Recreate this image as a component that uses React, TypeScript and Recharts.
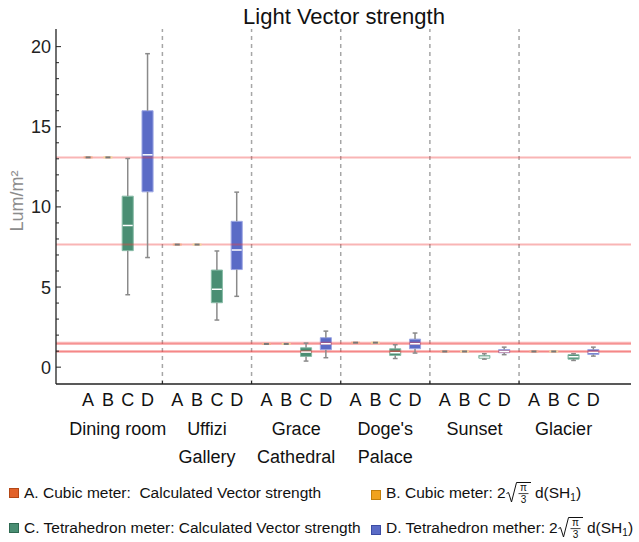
import React from "react";
import { ComposedChart, XAxis, YAxis, Scatter, ReferenceLine, ReferenceArea } from "recharts";

const FONT = "'Liberation Sans', Arial, sans-serif";

// six rooms, four meters each
const groupNames = [["Dining room"], ["Uffizi", "Gallery"], ["Grace", "Cathedral"], ["Doge's", "Palace"], ["Sunset"], ["Glacier"]];
const letters = ["A", "B", "C", "D"];

// cubic meter: single values
const cubicCalc = [13.09, 7.65, 1.45, 1.53, 0.98, 0.98];
const cubicSH = [13.09, 7.65, 1.45, 1.53, 0.98, 0.98];

// tetrahedron meter, calculated (C)
const cMin = [4.52, 2.94, 0.38, 0.54, 0.5, 0.42];
const cQ1 = [7.27, 4.02, 0.67, 0.73, 0.56, 0.5];
const cMed = [8.84, 4.86, 0.94, 0.9, 0.63, 0.65];
const cQ3 = [10.67, 6.06, 1.21, 1.15, 0.73, 0.78];
const cMax = [13.02, 7.25, 1.5, 1.4, 0.84, 0.84];

// tetrahedron meter, SH (D)
const dMin = [6.84, 4.42, 0.59, 0.88, 0.78, 0.69];
const dQ1 = [10.94, 6.09, 1.09, 1.15, 0.9, 0.79];
const dMed = [13.25, 7.31, 1.46, 1.46, 0.98, 0.92];
const dQ3 = [16.0, 9.1, 1.84, 1.75, 1.1, 1.1];
const dMax = [19.56, 10.92, 2.25, 2.13, 1.25, 1.25];

const yTicks = [0, 1, 2, 3, 4, 5, 6, 7, 8, 9, 10, 11, 12, 13, 14, 15, 16, 17, 18, 19, 20];

const GROUP_STEP = 4.5;
const pos = (g: number, i: number) => g * GROUP_STEP + i;

const GREEN = "#4a8e73";
const GREEN_EDGE = "#88bca7";
const BLUE = "#5a6bc6";
const BLUE_EDGE = "#9da7e4";
const WHISKER = "#8a8a8a";

const dashData = groupNames.flatMap((_, g) => [
  { x: pos(g, 0), y: cubicCalc[g], kind: "A" },
  { x: pos(g, 1), y: cubicSH[g], kind: "B" },
]);

const boxes = groupNames.flatMap((_, g) => [
  { x: pos(g, 2), min: cMin[g], q1: cQ1[g], med: cMed[g], q3: cQ3[g], max: cMax[g], fill: GREEN, edge: GREEN_EDGE },
  { x: pos(g, 3), min: dMin[g], q1: dQ1[g], med: dMed[g], q3: dQ3[g], max: dMax[g], fill: BLUE, edge: BLUE_EDGE },
]);

const separators = groupNames.slice(0, -1).map((_, g) => g * GROUP_STEP + 3.75);
const bottomTicks = [
  ...groupNames.flatMap((_, g) => letters.map((__, i) => pos(g, i))),
  ...groupNames.map((_, g) => g * GROUP_STEP + 1.5),
  ...separators,
].sort((a, b) => a - b);

// legend laid out as a 2 column grid
const legendItems = [
  { text: "A. Cubic meter:  Calculated Vector strength", fill: "#e2622a", edge: "#b44816", formula: false, left: 9, mid: 493 },
  { text: "B. Cubic meter:", fill: "#f0a21e", edge: "#c27f0c", formula: true, left: 371, mid: 493 },
  { text: "C. Tetrahedron meter: Calculated Vector strength", fill: GREEN, edge: "#2f6a52", formula: false, left: 9, mid: 528 },
  { text: "D. Tetrahedron mether:", fill: BLUE, edge: "#3c4ca4", formula: true, left: 371, mid: 528 },
];

const Dash = (p: any) => {
  const c = p.payload.kind === "A" ? "#f6ae8c" : "#f6d59a";
  return (
    <g>
      <line x1={p.cx - 4.5} x2={p.cx + 4.5} y1={p.cy} y2={p.cy} stroke={c} strokeWidth={2} />
      <line x1={p.cx - 2.5} x2={p.cx + 2.5} y1={p.cy} y2={p.cy} stroke="#787878" strokeWidth={2} />
    </g>
  );
};

const LeftTick = (p: any) => {
  const v = p.payload.value;
  const major = v % 5 === 0;
  return (
    <g>
      <line x1={p.x} x2={p.x + (major ? 5 : 3)} y1={p.y} y2={p.y} stroke="#222" />
      {major && (
        <text x={p.x - 5} y={p.y} dy="0.36em" textAnchor="end" fontSize={18} fill="#222" fontFamily={FONT}>
          {v}
        </text>
      )}
    </g>
  );
};

const RightTick = (p: any) => {
  const major = p.payload.value % 5 === 0;
  return <line x1={p.x} x2={p.x - (major ? 5 : 3)} y1={p.y} y2={p.y} stroke="#222" />;
};

const TopTick = (p: any) => <line x1={p.x} x2={p.x} y1={p.y} y2={p.y + 3} stroke="#222" />;

const BottomTick = (p: any) => {
  const v = p.payload.value;
  const g = Math.floor(v / GROUP_STEP + 1e-6);
  const off = v - g * GROUP_STEP;
  if (Math.abs(off - 3.75) < 0.01) {
    return <line x1={p.x} x2={p.x} y1={p.y} y2={p.y - 3} stroke="#222" />;
  }
  if (Math.abs(off - 1.5) < 0.01) {
    return (
      <g fontFamily={FONT} fontSize={18} fill="#111" textAnchor="middle">
        {groupNames[g].map((line, k) => (
          <text key={k} x={p.x} y={p.y + 51 + k * 28}>{line}</text>
        ))}
      </g>
    );
  }
  return (
    <text x={p.x} y={p.y + 22} textAnchor="middle" fontFamily={FONT} fontSize={18} fill="#111">
      {letters[Math.round(off)]}
    </text>
  );
};

// 2 * sqrt(pi/3) * d(SH_1), baseline at y = 20.4 inside a 30px tall box
const Formula = () => (
  <svg width={84} height={30} style={{ marginLeft: 4 }}>
    <g fontFamily={FONT} fill="#111">
      <text x={0} y={20.4} fontSize={15.5}>2</text>
      <path d="M9.5,15.5 L11.5,14.5 L14.5,24 L19.5,4.5 L34,4.5" fill="none" stroke="#111" strokeWidth={1} />
      <text x={26.5} y={13.2} fontSize={10} textAnchor="middle">π</text>
      <line x1={21.5} x2={31.5} y1={15.6} y2={15.6} stroke="#111" strokeWidth={0.8} />
      <text x={26.5} y={25} fontSize={10} textAnchor="middle">3</text>
      <text x={38} y={20.4} fontSize={15.5}>
        d(SH<tspan fontSize={10} dy={3}>1</tspan>
        <tspan dy={-3}>)</tspan>
      </text>
    </g>
  </svg>
);

export default function App() {
  return (
    <div style={{ position: "absolute", left: 0, top: 0, width: 639, height: 542, background: "#fff" }}>
      <ComposedChart width={639} height={542} margin={{ top: 29, right: 8, bottom: 0, left: 0 }}>
        <XAxis
          xAxisId={0}
          dataKey="x"
          type="number"
          domain={[-1.62, 27.4]}
          allowDataOverflow
          ticks={bottomTicks}
          interval={0}
          height={158}
          tickSize={0}
          tickMargin={0}
          tickLine={false}
          tick={<BottomTick />}
          axisLine={{ stroke: "#222", strokeWidth: 1.3 }}
        />
        <XAxis
          xAxisId="top"
          orientation="top"
          type="number"
          domain={[-1.62, 27.4]}
          allowDataOverflow
          ticks={separators}
          interval={0}
          height={0}
          tickSize={0}
          tickMargin={0}
          tickLine={false}
          tick={<TopTick />}
          axisLine={{ stroke: "#222", strokeWidth: 1.3 }}
        />
        <YAxis
          yAxisId={0}
          dataKey="y"
          type="number"
          domain={[-1.05, 21.1]}
          allowDataOverflow
          ticks={yTicks}
          interval={0}
          width={56}
          tickSize={0}
          tickMargin={0}
          tickLine={false}
          tick={<LeftTick />}
          axisLine={{ stroke: "#222", strokeWidth: 1.3 }}
        />
        <YAxis
          yAxisId="right"
          orientation="right"
          type="number"
          domain={[-1.05, 21.1]}
          allowDataOverflow
          ticks={yTicks}
          interval={0}
          width={0}
          tickSize={0}
          tickMargin={0}
          tickLine={false}
          tick={<RightTick />}
          axisLine={{ stroke: "#222", strokeWidth: 1.3 }}
        />

        {separators.map((s) => (
          <ReferenceLine key={`sep-${s}`} x={s} stroke="#a6a6a6" strokeWidth={1.5} strokeDasharray="4 4" />
        ))}
        {cubicCalc.map((v, g) => (
          <ReferenceLine key={`ref-${g}`} y={v} stroke="#f03c3c" strokeOpacity={0.38} strokeWidth={2} />
        ))}

        {boxes.map((b, k) => (
          <React.Fragment key={`box-${k}`}>
            <ReferenceLine segment={[{ x: b.x, y: b.min }, { x: b.x, y: b.q1 }]} stroke={WHISKER} strokeWidth={1.5} />
            <ReferenceLine segment={[{ x: b.x, y: b.q3 }, { x: b.x, y: b.max }]} stroke={WHISKER} strokeWidth={1.5} />
            <ReferenceLine segment={[{ x: b.x - 0.12, y: b.min }, { x: b.x + 0.12, y: b.min }]} stroke={WHISKER} strokeWidth={1.5} />
            <ReferenceLine segment={[{ x: b.x - 0.12, y: b.max }, { x: b.x + 0.12, y: b.max }]} stroke={WHISKER} strokeWidth={1.5} />
            <ReferenceArea x1={b.x - 0.28} x2={b.x + 0.28} y1={b.q1} y2={b.q3} fill={b.fill} fillOpacity={1} stroke={b.edge} strokeWidth={1} />
            <ReferenceLine segment={[{ x: b.x - 0.25, y: b.med }, { x: b.x + 0.25, y: b.med }]} stroke="#fff" strokeWidth={1.5} />
          </React.Fragment>
        ))}

        <Scatter data={dashData} dataKey="y" shape={<Dash />} isAnimationActive={false} />
      </ComposedChart>

      <svg width={639} height={470} style={{ position: "absolute", left: 0, top: 0, pointerEvents: "none" }}>
        <text x={344} y={24} textAnchor="middle" fontSize={22} fontFamily={FONT} fill="#111">
          Light Vector strength
        </text>
        <text x={23} y={201} transform="rotate(-90 23 201)" textAnchor="middle" fontSize={18} fontFamily={FONT} fill="#8c8c8c">
          Lum/m²
        </text>
      </svg>

      {legendItems.map((it) => (
        <div
          key={it.text}
          style={{
            position: "absolute",
            left: it.left,
            top: it.mid - 15,
            height: 30,
            display: "flex",
            alignItems: "center",
            whiteSpace: "pre",
            fontFamily: FONT,
            fontSize: 15.5,
            color: "#111",
          }}
        >
          <span
            style={{
              display: "inline-block",
              width: 10,
              height: 10,
              boxSizing: "border-box",
              background: it.fill,
              border: `1px solid ${it.edge}`,
              marginRight: 5,
              marginTop: it.formula ? 3 : 0,
            }}
          />
          <span>{it.text}</span>
          {it.formula && <Formula />}
        </div>
      ))}
    </div>
  );
}
